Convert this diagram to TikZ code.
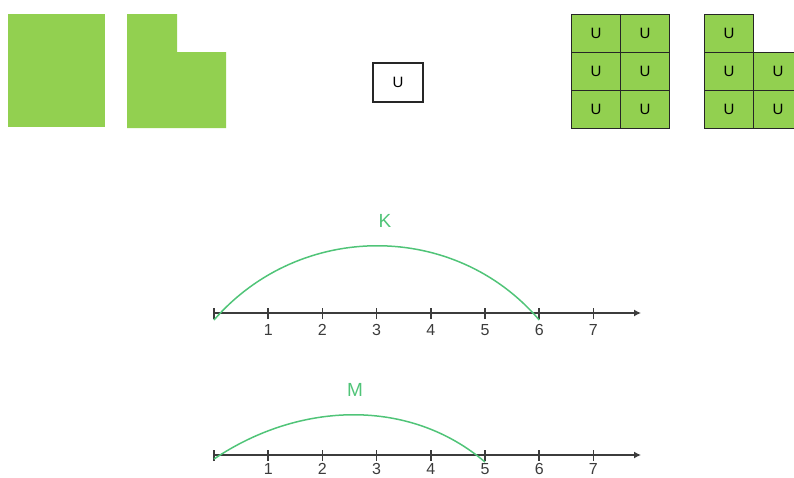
\documentclass[tikz,border=0pt]{standalone}
\usepackage{fontspec}
\setmainfont{Liberation Sans}
\usetikzlibrary{arrows.meta}
\definecolor{fillgreen}{RGB}{146,208,80}
\definecolor{arcgreen}{RGB}{80,196,120}
\definecolor{axisgray}{RGB}{60,60,60}
\begin{document}
\begin{tikzpicture}[x=1pt,y=-1pt,
  cell/.style={draw=black!85,fill=fillgreen,line width=1.2pt,minimum width=49pt,minimum height=38pt,inner sep=0pt,anchor=north west,font=\fontsize{15}{15}\selectfont},
  unitbox/.style={draw=black!85,fill=white,line width=1.2pt,minimum width=50pt,minimum height=39pt,inner sep=0pt,font=\fontsize{15}{15}\selectfont},
  axisline/.style={draw=axisgray,line width=1.3pt,-{Latex[length=7pt,width=7pt]}},
  tickmark/.style={draw=axisgray,line width=1.5pt},
  ticklabel/.style={font=\fontsize{16}{16}\selectfont,text=axisgray,inner sep=0pt},
  jump/.style={draw=arcgreen,line width=1.5pt},
  jumplabel/.style={font=\fontsize{19}{19}\selectfont,text=arcgreen,inner sep=0pt}]
\useasboundingbox (0,0) rectangle (794,477);
% green shapes
\fill[fillgreen] (8,14) rectangle (105,127);
\fill[fillgreen] (127,14) -- (177,14) -- (177,52) -- (226,52) -- (226,128) -- (127,128) -- cycle;
% unit box
\node[unitbox] (unit) at (398,82.5) {U};
% left grid
\foreach \r [count=\i] in {14,52,90}{
  \foreach \c [count=\j] in {571,620}{
    \node[cell] (g\i\j) at (\c,\r) {U};
  }
}
% right grid
\node[cell] (h11) at (704,14) {U};
\node[cell] (h21) at (704,52) {U};
\node[cell] (h22) at (753,52) {U};
\node[cell] (h31) at (704,90) {U};
\node[cell] (h32) at (753,90) {U};
% number line K
\coordinate (k0) at (214,313);
\coordinate (kend) at (641,313);
\draw[axisline] (k0) -- (kend);
\foreach \n in {0,...,7}{
  \coordinate (kt\n) at ({214+54.2*\n},313);
  \draw[tickmark] ([yshift=-6pt]kt\n) -- ([yshift=5pt]kt\n);
}
\foreach \n in {1,...,7}{
  \node[ticklabel] (kl\n) at ({214+54.2*\n},330) {\n};
}
\draw[jump] ([yshift=-7pt]kt0) .. controls (300,221) and (455,221) .. ([yshift=-7pt]kt6);
\node[jumplabel] (K) at (385,221) {K};
% number line M
\coordinate (m0) at (214,455);
\coordinate (mend) at (641,455);
\draw[axisline] (m0) -- (mend);
\foreach \n in {0,...,7}{
  \coordinate (mt\n) at ({214+54.2*\n},455);
  \draw[tickmark] ([yshift=-6pt]mt\n) -- ([yshift=5pt]mt\n);
}
\foreach \n in {1,...,7}{
  \node[ticklabel] (ml\n) at ({214+54.2*\n},469) {\n};
}
\draw[jump] ([yshift=-4pt]mt0) .. controls (300,401) and (410,398) .. ([yshift=-7pt]mt5);
\node[jumplabel] (M) at (355,390) {M};
\end{tikzpicture}
\end{document}
